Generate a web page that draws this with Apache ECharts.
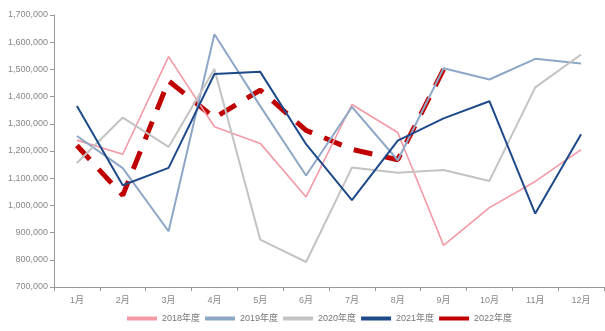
<!DOCTYPE html>
<html>
<head>
<meta charset="utf-8">
<script src="https://cdn.jsdelivr.net/npm/echarts@6/dist/echarts.min.js"></script>
<style>
html,body{margin:0;padding:0;background:#fff;}
#chart{width:605px;height:331px;}
</style>
</head>
<body>
<div id="chart"></div>
<script>
// Monthly categories
const months = ['1月','2月','3月','4月','5月','6月','7月','8月','9月','10月','11月','12月'];
const seriesNames = ['2018年度','2019年度','2020年度','2021年度','2022年度'];

// Monthly values per year
const v2018 = [1240000,1188000,1547000,1289000,1228000,1031000,1371000,1268000,853000,992000,1088000,1205000];
const v2019 = [1255000,1137000,905000,1629000,1365000,1110000,1362000,1166000,1504000,1463000,1539000,1522000];
const v2020 = [1156000,1323000,1215000,1501000,874000,792000,1139000,1120000,1130000,1090000,1434000,1555000];
const v2021 = [1365000,1074000,1138000,1483000,1491000,1225000,1019000,1238000,1320000,1383000,970000,1262000];
const v2022 = [1220000,1037000,1458000,1322000,1424000,1276000,1206000,1168000,1500000];

// Value axis range
const yMin = 700000, yMax = 1700000, yStep = 100000;

const colors = ['#F29AA6','#8EA7C7','#C3C3C3','#1E4A8A','#C00000'];

const chart = echarts.init(document.getElementById('chart'));

function lineSeries(name, data, color, width, extra) {
  return Object.assign({
    name: name,
    type: 'line',
    data: data,
    showSymbol: false,
    symbol: 'none',
    smooth: false,
    animation: false,
    itemStyle: { color: color },
    lineStyle: { color: color, width: width },
    z: 2
  }, extra || {});
}

chart.setOption({
  animation: false,
  backgroundColor: '#ffffff',
  grid: { left: 54, right: 1, top: 15, bottom: 44, containLabel: false },
  legend: {
    data: seriesNames,
    left: 122,
    bottom: 3,
    icon: 'rect',
    itemWidth: 30,
    itemHeight: 4,
    itemGap: 5,
    textStyle: { color: '#777', fontSize: 9, fontFamily: 'Liberation Sans, Noto Sans CJK SC, sans-serif' }
  },
  xAxis: {
    type: 'category',
    data: months,
    boundaryGap: true,
    axisLine: { lineStyle: { color: '#999', width: 1 } },
    axisTick: { show: true, length: 4, lineStyle: { color: '#999' } },
    axisLabel: { color: '#888', fontSize: 9, margin: 9, fontFamily: 'Liberation Sans, Noto Sans CJK SC, sans-serif' },
    splitLine: { show: false }
  },
  yAxis: {
    type: 'value',
    min: yMin,
    max: yMax,
    interval: yStep,
    axisLine: { show: true, lineStyle: { color: '#999', width: 1 } },
    axisTick: { show: true, length: 4, lineStyle: { color: '#999' } },
    axisLabel: {
      color: '#888',
      fontSize: 9,
      margin: 6,
      fontFamily: 'Liberation Sans, sans-serif',
      formatter: function (v) { return v.toString().replace(/\B(?=(\d{3})+(?!\d))/g, ','); }
    },
    splitLine: { show: false }
  },
  series: [
    lineSeries('2018年度', v2018, colors[0], 1.6),
    lineSeries('2019年度', v2019, colors[1], 2),
    lineSeries('2020年度', v2020, colors[2], 2),
    lineSeries('2021年度', v2021, colors[3], 2),
    lineSeries('2022年度', v2022, colors[4], 5, {
      z: 1,
      lineStyle: { color: colors[4], width: 5, type: [19, 13], cap: 'butt' }
    })
  ]
});
</script>
</body>
</html>
